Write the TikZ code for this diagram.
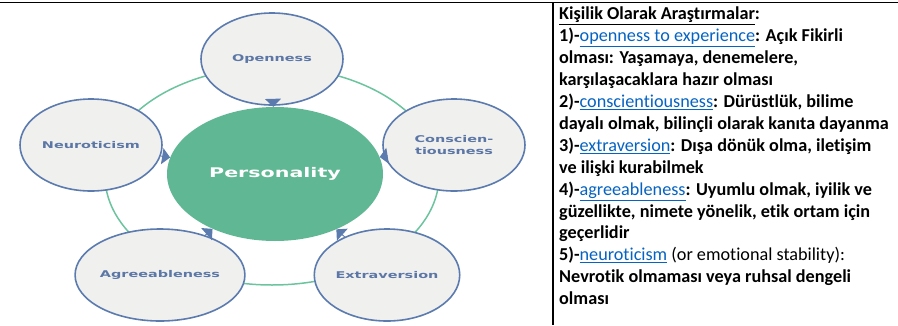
\documentclass[tikz,border=0pt]{standalone}
\usepackage{fontspec}
\setmainfont[Ligatures=NoCommon]{Carlito}
\newfontfamily\diagfont[FakeStretch=1.55]{DejaVu Sans}
\usetikzlibrary{shapes.geometric,arrows.meta}
\definecolor{satline}{HTML}{5B7BAF}
\definecolor{satfill}{HTML}{F0F0EF}
\definecolor{sattext}{HTML}{5C77A5}
\definecolor{persgreen}{HTML}{5FB794}
\definecolor{ringgreen}{HTML}{6BC49E}
\definecolor{linkblue}{HTML}{0563C1}
\newcommand{\linkword}[1]{{\mdseries\color{linkblue}\underline{#1}}}
\begin{document}
\begin{tikzpicture}[x=1pt,y=-1pt,
	sat/.style={ellipse,draw=satline,fill=satfill,line width=1.6pt,minimum width=142pt,minimum height=92pt,inner sep=0pt,align=center,text=sattext,font=\diagfont\bfseries\fontsize{9.3}{12}\selectfont},
	pers/.style={ellipse,fill=persgreen,minimum width=216pt,minimum height=134pt,inner sep=0pt,text=white,font=\diagfont\bfseries\fontsize{13.3}{16}\selectfont},
	ring/.style={draw=ringgreen,line width=1.5pt},
	tail/.style={satline,line width=1pt,-{Triangle[width=16pt,length=8pt]}}]
	\useasboundingbox (0,0) rectangle (898,325);
	\draw[line width=1.5pt] (0,2.5) -- (898,2.5);
	\draw[line width=1.5pt] (553,2.5) -- (553,325);
	% ring behind the five traits
	\draw[ring] (272,176) ellipse (167 and 109);
	\node[sat] (open) at (272,59) {Openness};
	\node[sat] (consc) at (454,145) {Conscien-\\tiousness};
	\node[sat] (extra) at (387,275) {Extraversion};
	\node[sat] (agree) at (160,275) {Agreeableness};
	\node[sat] (neuro) at (91,145) {Neuroticism};
	\node[pers] (pers) at (275,174) {Personality};
	\foreach \s in {open,consc,extra,agree,neuro}
		\draw[tail] (\s) -- (pers);
	% notes on the right
	\node[anchor=north west,inner sep=0pt,align=left,font=\bfseries\fontsize{18.2}{21.9}\selectfont] (notes) at (559,7) {%
		\underline{Kişilik Olarak Araştırmalar}:\\
		1)-\linkword{openness to experience}: Açık Fikirli\\
		olması: Yaşamaya, denemelere,\\
		karşılaşacaklara hazır olması\\
		2)-\linkword{conscientiousness}: Dürüstlük, bilime\\
		dayalı olmak, bilinçli olarak kanıta dayanma\\
		3)-\linkword{extraversion}: Dışa dönük olma, iletişim\\
		ve ilişki kurabilmek\\
		4)-\linkword{agreeableness}: Uyumlu olmak, iyilik ve\\
		güzellikte, nimete yönelik, etik ortam için\\
		geçerlidir\\
		5)-\linkword{neuroticism} {\mdseries(or emotional stability):}\\
		Nevrotik olmaması veya ruhsal dengeli\\
		olması};
\end{tikzpicture}
\end{document}
